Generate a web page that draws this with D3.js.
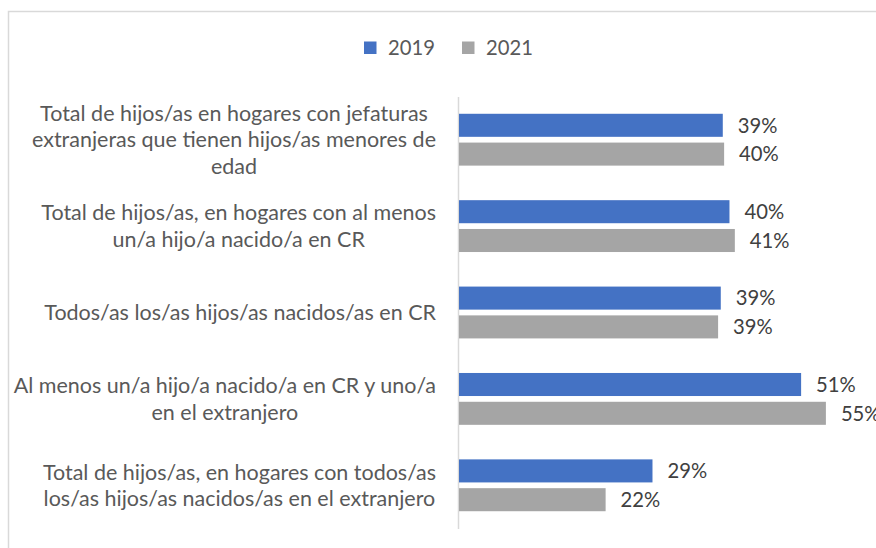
<!DOCTYPE html>
<html>
<head>
<meta charset="utf-8">
<script src="https://cdn.jsdelivr.net/npm/d3@7"></script>
<style>
  body { margin: 0; background: #fff; }
  svg { display: block; }
  text { font-family: Lato, "Open Sans", sans-serif; }
</style>
</head>
<body>
<div id="chart"></div>
<script>
let width = 876;
let height = 548;

// categorias (cada una partida en lineas como en el grafico)
let categories = [
    ["Total de hijos/as en hogares con jefaturas", "extranjeras que tienen hijos/as menores de", "edad"],
    ["Total de hijos/as, en hogares con al menos", "un/a hijo/a nacido/a en CR"],
    ["Todos/as los/as hijos/as nacidos/as en CR"],
    ["Al menos un/a hijo/a nacido/a en CR y uno/a", "en el extranjero"],
    ["Total de hijos/as, en hogares con todos/as", "los/as hijos/as nacidos/as en el extranjero"]
];
let years = ["2019", "2021"];
let values2019 = [39.4, 40.4, 39.1, 51.1, 28.9];
let values2021 = [39.6, 41.2, 38.7, 54.8, 21.9];

// colores
let color_2019 = "#4472C4";
let color_2021 = "#A5A5A5";
let label_color = "#595959";
let value_color = "#404040";
let line_color = "#D9D9D9";

let plot_left = 459;
let plot_top = 96.5;
let plot_bottom = 528.5;
let label_right = 436;
let line_height = 26.7;

let svg = d3.select("#chart").append("svg")
    .attr("width", width)
    .attr("height", height);

// marco del grafico (se sale por la derecha y abajo)
svg.append("rect")
    .attr("x", 8.5)
    .attr("y", 11.5)
    .attr("width", 900)
    .attr("height", 600)
    .attr("fill", "none")
    .attr("stroke", line_color)
    .attr("stroke-width", 1.5);

// tamano de letra ajustado al ancho de la linea mas larga del original
let probe = svg.append("text").style("font-size", "20px").text(categories[0][0]);
let font_size = 20 * 388 / probe.node().getComputedTextLength();
probe.text("2019");
// los numeros de Lato son mas anchos: tamano intermedio para cifras
let num_size = (font_size + 20 * 44 / probe.node().getComputedTextLength()) / 2;
probe.remove();

let rows = categories.map((c, i) => ({lines: c, v2019: values2019[i], v2021: values2021[i], idx: i}));

let x = d3.scaleLinear().domain([0, 60]).range([plot_left, plot_left + 60 * 6.695]);
let y = d3.scaleBand().domain(d3.range(categories.length)).range([plot_top, plot_bottom]);
let ySub = d3.scaleBand().domain(years).range([0, y.bandwidth()]).paddingInner(0.2).paddingOuter(0.6);
let colors = d3.scaleOrdinal().domain(years).range([color_2019, color_2021]);

// eje vertical
svg.append("g")
    .attr("transform", "translate(" + (plot_left - 1) + ",0)")
    .call(d3.axisLeft(y).tickSize(0).tickFormat(""))
    .call(g => g.select(".domain").attr("stroke", line_color).attr("stroke-width", 1.5));

// barras
let groups = svg.selectAll(".row")
    .data(rows)
    .enter()
    .append("g")
    .attr("class", "row")
    .attr("transform", d => "translate(0," + y(d.idx) + ")");

groups.selectAll("rect")
    .data(d => years.map(yr => ({year: yr, value: d["v" + yr]})))
    .enter()
    .append("rect")
    .attr("x", x(0))
    .attr("y", d => ySub(d.year))
    .attr("width", d => x(d.value) - x(0))
    .attr("height", ySub.bandwidth())
    .attr("fill", d => colors(d.year));

// etiquetas de valor
groups.selectAll(".val")
    .data(d => years.map(yr => ({year: yr, value: d["v" + yr]})))
    .enter()
    .append("text")
    .attr("class", "val")
    .attr("x", d => x(d.value) + 15)
    .attr("y", d => ySub(d.year) + ySub.bandwidth() / 2 + num_size * 0.36)
    .style("font-size", num_size + "px")
    .style("fill", value_color)
    .text(d => d3.format(".0f")(d.value) + "%");

// etiquetas de categoria: bloque alineado a la derecha, lineas centradas
groups.each(function(d) {
    let g = d3.select(this);
    let t = g.append("text")
        .style("font-size", font_size + "px")
        .style("fill", label_color)
        .attr("text-anchor", "middle");
    let spans = t.selectAll("tspan")
        .data(d.lines)
        .enter()
        .append("tspan")
        .text(s => s);
    let maxW = d3.max(spans.nodes(), n => n.getComputedTextLength());
    let cx = label_right - maxW / 2;
    let first = y.bandwidth() / 2 - (d.lines.length - 1) * line_height / 2 + font_size * 0.36;
    spans.attr("x", cx).attr("y", (s, i) => first + i * line_height);
});

// leyenda
let legend = svg.append("g").attr("class", "legend");
let legend_x = [364, 462];
years.forEach((yr, i) => {
    legend.append("rect")
        .attr("x", legend_x[i])
        .attr("y", 41.5)
        .attr("width", 12.5)
        .attr("height", 12.5)
        .attr("fill", colors(yr));
    legend.append("text")
        .attr("x", legend_x[i] + 24)
        .attr("y", 48 + num_size * 0.36)
        .style("font-size", num_size + "px")
        .style("fill", label_color)
        .text(yr);
});
</script>
</body>
</html>
